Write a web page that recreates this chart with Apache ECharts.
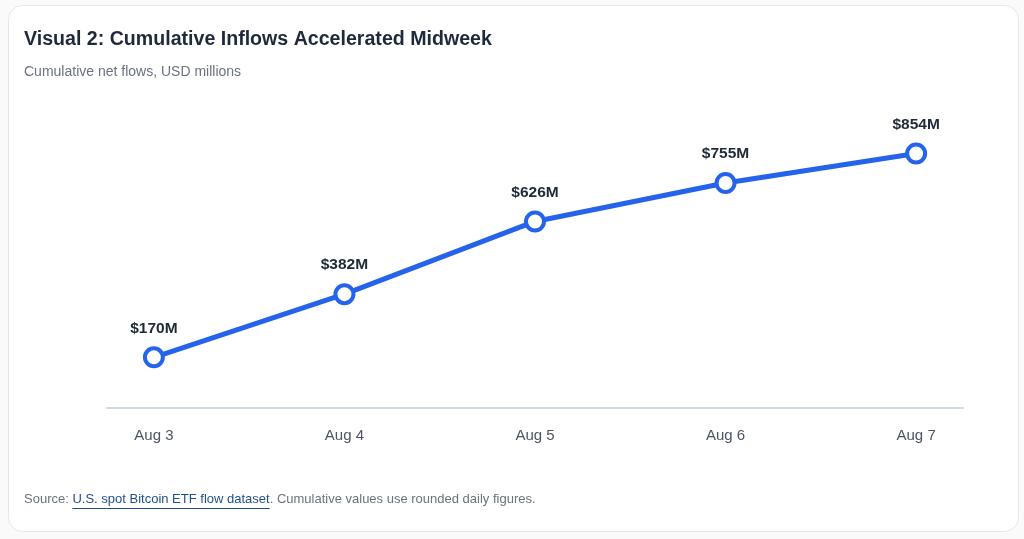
<!DOCTYPE html>
<html>
<head>
<meta charset="utf-8">
<script src="https://cdn.jsdelivr.net/npm/echarts@6/dist/echarts.min.js"></script>
<style>
html,body{margin:0;padding:0;background:#fafafa;}
#chart{width:1024px;height:539px;}
</style>
</head>
<body>
<div id="chart"></div>
<script>
var categories = ['Aug 3', 'Aug 4', 'Aug 5', 'Aug 6', 'Aug 7'];
var cumulativeValues = [170, 382, 626, 755, 854];
var titleText = 'Visual 2: Cumulative Inflows Accelerated Midweek';
var subtitleText = 'Cumulative net flows, USD millions';
var sourcePrefix = 'Source: ';
var sourceLink = 'U.S. spot Bitcoin ETF flow dataset';
var sourceSuffix = '. Cumulative values use rounded daily figures.';

var chart = echarts.init(document.getElementById('chart'), null, {renderer: 'canvas'});
var seriesData = cumulativeValues.map(function (v, i) { return [i, v]; });
var idx = categories.map(function (c, i) { return i; });
var fontFamily = '"Liberation Sans", Arial, sans-serif';

var ctx = document.createElement('canvas').getContext('2d');
ctx.font = '13px ' + fontFamily;
var prefixW = ctx.measureText(sourcePrefix).width;
var linkW = ctx.measureText(sourceLink).width;

chart.setOption({
  backgroundColor: '#fafafa',
  animation: false,
  textStyle: {fontFamily: fontFamily},
  graphic: [
    {type: 'rect', shape: {x: 8.5, y: 5.5, width: 1010, height: 526, r: 14}, style: {fill: '#ffffff', stroke: '#e5e7eb', lineWidth: 1}, z: -10},
    {type: 'text', left: 24, top: 30, style: {text: titleText, font: 'bold 19.6px ' + fontFamily, fill: '#1e293b'}},
    {type: 'text', left: 24, top: 65, style: {text: subtitleText, font: '14px ' + fontFamily, fill: '#6b7280'}},
    {type: 'text', left: 24, top: 493, style: {
      text: '{a|' + sourcePrefix + '}{b|' + sourceLink + '}{a|' + sourceSuffix + '}',
      rich: {
        a: {fontFamily: fontFamily, fontSize: 13, fill: '#6b7280', color: '#6b7280'},
        b: {fontFamily: fontFamily, fontSize: 13, fill: '#1e4f91', color: '#1e4f91'}
      }
    }},
    {type: 'line', shape: {x1: 24 + prefixW, y1: 508.5, x2: 24 + prefixW + linkW, y2: 508.5}, style: {stroke: '#1e4f91', lineWidth: 1}}
  ],
  grid: {left: 107, right: 61, top: 110, bottom: 131, containLabel: false},
  xAxis: {
    type: 'value',
    min: -0.246,
    max: 4.246,
    splitLine: {show: false},
    axisLine: {show: true, onZero: false, lineStyle: {color: '#d1d9e0', width: 2}},
    axisTick: {show: false},
    axisLabel: {
      customValues: idx,
      formatter: function (v) { return categories[Math.round(v)]; },
      color: '#4b5563',
      fontSize: 15,
      fontFamily: fontFamily,
      margin: 20
    }
  },
  yAxis: {
    type: 'value',
    min: 0,
    max: 1000,
    show: false,
    splitLine: {show: false}
  },
  series: [{
    type: 'line',
    data: seriesData,
    lineStyle: {color: '#2563eb', width: 5},
    symbol: 'circle',
    symbolSize: 18,
    itemStyle: {color: '#ffffff', borderColor: '#2563eb', borderWidth: 4},
    label: {
      show: true,
      position: 'top',
      distance: 10,
      formatter: function (p) { return '$' + p.value[1] + 'M'; },
      fontSize: 15.5,
      fontWeight: 'bold',
      fontFamily: fontFamily,
      color: '#1f2937'
    }
  }]
});
</script>
</body>
</html>
